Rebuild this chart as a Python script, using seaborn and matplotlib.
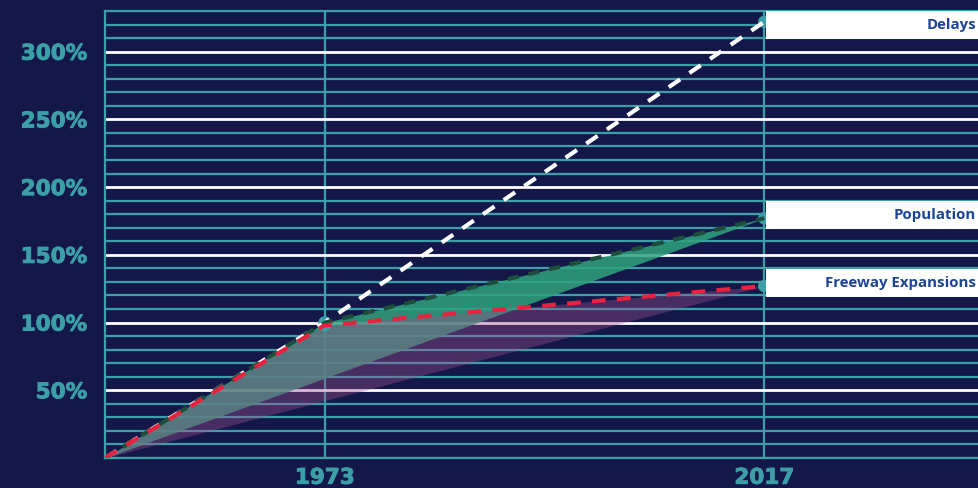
import matplotlib as mpl
import matplotlib.pyplot as plt
import matplotlib.patheffects as pe
import numpy as np
import seaborn as sns
from matplotlib.patches import Rectangle
from matplotlib.ticker import FixedLocator, MultipleLocator

mpl.use('Agg')

# data: growth since the first year, in percent
years = [1951, 1973, 2017]
delays = [0, 100, 322]
population = [0, 100, 177]
freeway = [0, 98, 127]
series_names = ['Delays', 'Population', 'Freeway Expansions']
x_tick_years = [1973, 2017]
y_tick_values = [50, 100, 150, 200, 250, 300]

# colours
navy = '#131848'
teal = '#3c9ea6'
green = '#2fa37d'
dark_green = '#1c4d3d'
purple = '#a0508f'
red = '#e8213f'
label_blue = '#1d4494'

sns.set_theme(style='white', rc={'axes.facecolor': navy, 'figure.facecolor': navy,
                                 'savefig.facecolor': navy})

fig = plt.figure(figsize=(9.79, 4.88), dpi=100)
ax = fig.add_axes([105 / 979, 30 / 488, 874 / 979, 447 / 488])
x_max = 2038.5
y_max = 330
ax.set_xlim(years[0], x_max)
ax.set_ylim(0, y_max)

# grid: teal every 10 %, white every 50 %, teal verticals at labelled years
ax.yaxis.set_minor_locator(MultipleLocator(10))
ax.yaxis.set_major_locator(FixedLocator(y_tick_values))
ax.set_yticklabels(['{}%'.format(v) for v in y_tick_values])
ax.set_xticks(x_tick_years)
ax.set_xticklabels([str(y) for y in x_tick_years])
ax.grid(axis='y', which='minor', color=teal, linewidth=1.6, zorder=0)
ax.grid(axis='y', which='major', color='white', linewidth=2, zorder=0.5)
ax.grid(axis='x', which='major', color=teal, linewidth=1.6, zorder=0)
ax.set_axisbelow(True)
for side in ['left', 'top', 'bottom']:
    ax.spines[side].set_color(teal)
    ax.spines[side].set_linewidth(1.6)
ax.spines['right'].set_visible(False)

ax.tick_params(axis='y', which='major', length=8, width=1.5, color='white', pad=5,
               labelsize=15.5, labelcolor=teal)
ax.tick_params(axis='y', which='minor', length=0)
ax.tick_params(axis='x', which='major', length=0, pad=7, labelsize=15.5, labelcolor=teal)
for lab in ax.get_xticklabels() + ax.get_yticklabels():
    lab.set_fontweight('bold')
    lab.set_family('DejaVu Sans')
    lab.set_path_effects([pe.withStroke(linewidth=0.7, foreground=teal)])

# fills between actual path and the straight line from start to end
yrs = np.array(years, dtype=float)
pop = np.array(population, dtype=float)
fwy = np.array(freeway, dtype=float)
pop_straight = np.interp(yrs, [yrs[0], yrs[-1]], [pop[0], pop[-1]])
fwy_straight = np.interp(yrs, [yrs[0], yrs[-1]], [fwy[0], fwy[-1]])
ax.fill_between(yrs, pop, pop_straight, color=green, alpha=0.85, linewidth=0, zorder=2)
ax.fill_between(yrs, fwy, fwy_straight, color=purple, alpha=0.38, linewidth=0, zorder=2.5)

# end markers
mark_x = [years[1]] * 3 + [years[2]] * 3
mark_y = [delays[1], population[1], freeway[1], delays[2], population[2], freeway[2]]
sns.scatterplot(x=mark_x, y=mark_y, ax=ax, s=80, color=teal, edgecolor='none',
                zorder=3, clip_on=False)

# dashed lines
sns.lineplot(x=years, y=delays, ax=ax, color='white', linewidth=3,
             linestyle=(0, (3.3, 2.7)), zorder=4)
sns.lineplot(x=years, y=population, ax=ax, color=dark_green, linewidth=3,
             linestyle=(0, (2.7, 2.4)), zorder=5)
sns.lineplot(x=years, y=freeway, ax=ax, color=red, linewidth=3,
             linestyle=(0, (3.3, 2.7)), zorder=6)

# label boxes at the right
box_h = 20.6
for name, vals in zip(series_names, [delays, population, freeway]):
    yc = min(vals[-1] + 2.5, y_max - box_h / 2)
    ax.add_patch(Rectangle((years[-1] + 0.2, yc - box_h / 2), x_max - years[-1], box_h,
                           facecolor='white', edgecolor='none', zorder=7, clip_on=False))
    ax.text(x_max - 0.3, yc, name, ha='right', va='center', color=label_blue,
            fontsize=10.8, fontweight='bold', family='Open Sans', zorder=8)

ax.set_xlabel('')
ax.set_ylabel('')
fig.savefig('out.png', dpi=100)
